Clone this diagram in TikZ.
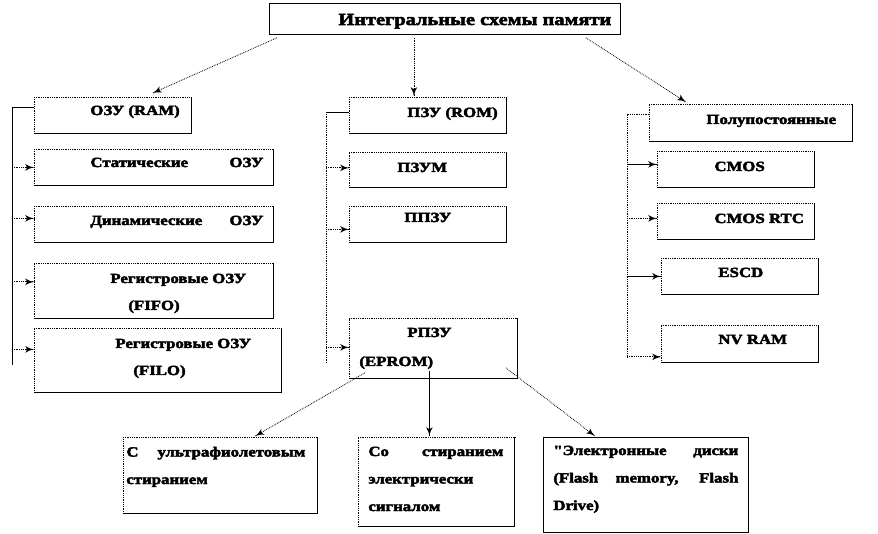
\documentclass[tikz,border=0pt]{standalone}
\usepackage{fontspec}
\usepackage{tikz}
\usetikzlibrary{arrows}
\usetikzlibrary{decorations.markings}
\usetikzlibrary{positioning}
\newfontfamily\boxfont{Liberation Serif}[FakeStretch=1.2, FakeBold=3]
\tikzset{tipend/.style = {decoration={markings,
                                      mark=at position 1 with {\arrow[scale=1.7]{latex'}}},
                          postaction={decorate}}}
\tikzset{box/.style = {rectangle, anchor = north west, inner sep = 0, draw}}
\tikzset{dbox/.style = {rectangle, anchor = north west, inner sep = 0,
                        append after command = {
                          (\tikzlastnode.south west) edge [densely dotted] (\tikzlastnode.north west)
                          (\tikzlastnode.north west) edge [densely dotted] (\tikzlastnode.north east)
                          (\tikzlastnode.north east) edge (\tikzlastnode.south east)
                          (\tikzlastnode.south east) edge (\tikzlastnode.south west)}}}
\tikzset{lbl/.style = {inner sep = 0, anchor = base west,
                       font = \boxfont\bfseries\fontsize{14}{16}\selectfont}}
\tikzset{para/.style = {lbl, align = left,
                        font = \boxfont\bfseries\fontsize{14}{27.5}\selectfont}}

\begin{document}
\begin{tikzpicture}[x=1pt, y=-1pt, line width=0.8pt]
      \useasboundingbox (0, 0) rectangle (878, 534);

      % boxes
      \node [box, minimum width = 351pt, minimum height = 31pt] (top) at (269, 3) {};
      \node [dbox, minimum width = 157pt, minimum height = 36pt] (ram) at (34, 97) {};
      \node [dbox, minimum width = 239pt, minimum height = 36pt] (stat) at (34, 149) {};
      \node [dbox, minimum width = 239pt, minimum height = 36pt] (dyn) at (34, 206) {};
      \node [dbox, minimum width = 239pt, minimum height = 55pt] (fifo) at (34, 263) {};
      \node [dbox, minimum width = 247pt, minimum height = 64pt] (filo) at (34, 328) {};
      \node [dbox, minimum width = 157pt, minimum height = 36pt] (rom) at (349, 97) {};
      \node [dbox, minimum width = 157pt, minimum height = 35pt] (pzum) at (349, 152) {};
      \node [dbox, minimum width = 157pt, minimum height = 36pt] (ppzu) at (349, 206) {};
      \node [dbox, minimum width = 168pt, minimum height = 60pt] (eprom) at (349, 318) {};
      \node [dbox, minimum width = 203pt, minimum height = 37pt] (semi) at (649, 104) {};
      \node [dbox, minimum width = 157pt, minimum height = 36pt] (cmos) at (657, 151) {};
      \node [dbox, minimum width = 157pt, minimum height = 36pt] (rtc) at (657, 203) {};
      \node [dbox, minimum width = 157pt, minimum height = 36pt] (escd) at (661, 258) {};
      \node [dbox, minimum width = 157pt, minimum height = 37pt] (nvram) at (661, 325) {};
      \node [dbox, minimum width = 194pt, minimum height = 76pt] (uv) at (123, 437) {};
      \node [dbox, minimum width = 156pt, minimum height = 89pt] (elec) at (358, 437) {};
      \node [box, minimum width = 205pt, minimum height = 95pt] (flash) at (543, 437) {};

      % texts
      \node [lbl, font = \boxfont\bfseries\fontsize{17}{20}\selectfont] (ttl) at (338, 25) {Интегральные схемы памяти};
      \node [lbl] (t-ram) at (90, 115) {ОЗУ (RAM)};
      \node [lbl] (t-stat) at (90, 167) {\makebox[173pt][s]{Статические ОЗУ}};
      \node [lbl] (t-dyn) at (90, 225) {\makebox[173pt][s]{Динамические ОЗУ}};
      \node [lbl] (t-fifo) at (110, 283) {Регистровые ОЗУ};
      \node [lbl] (t-fifo2) at (128, 310) {(FIFO)};
      \node [lbl] (t-filo) at (115, 348) {Регистровые ОЗУ};
      \node [lbl] (t-filo2) at (133, 375) {(FILO)};
      \node [lbl] (t-rom) at (407, 117) {ПЗУ (ROM)};
      \node [lbl] (t-pzum) at (397, 172) {ПЗУМ};
      \node [lbl] (t-ppzu) at (404, 222) {ППЗУ};
      \node [lbl] (t-eprom) at (407, 337) {РПЗУ};
      \node [lbl] (t-eprom2) at (359, 366) {(EPROM)};
      \node [lbl] (t-semi) at (706, 124) {Полупостоянные};
      \node [lbl] (t-cmos) at (714, 171) {CMOS};
      \node [lbl] (t-rtc) at (714, 223) {CMOS RTC};
      \node [lbl] (t-escd) at (718, 277) {ESCD};
      \node [lbl] (t-nvram) at (718, 344) {NV RAM};
      \node [para] (t-uv) at (126, 484) {\makebox[179pt][s]{С ультрафиолетовым}\\стиранием};
      \node [para] (t-elec) at (368, 511) {\makebox[135pt][s]{Со стиранием}\\электрически\\сигналом};
      \node [para] (t-flash) at (553, 510) {\makebox[185pt][s]{"Электронные диски}\\\makebox[185pt][s]{(Flash memory, Flash}\\Drive)};

      % from the title
      \draw [densely dotted, tipend] ([xshift = 8, yshift = -3]top.south west) -- ([xshift = 40, yshift = 4]ram.north);
      \draw [densely dotted, tipend] ([xshift = -31, yshift = -3]top.south) -- ([xshift = -14, yshift = 1]rom.north);
      \draw [densely dotted, tipend] ([xshift = -35, yshift = -3]top.south east) -- ([xshift = -65, yshift = 2]semi.north);

      % left column
      \coordinate (ltop) at (12, 107);
      \coordinate (lbot) at (12, 365);
      \draw (ltop) -- (lbot);
      \draw (ltop) -- (ram.west |- ltop);
      \draw [densely dotted, tipend] (stat.west -| ltop) -- (stat.west);
      \draw [densely dotted, tipend] ([yshift = 6]dyn.west -| ltop) -- ([yshift = 6]dyn.west);
      \draw [densely dotted, tipend] ([yshift = 9]fifo.west -| ltop) -- ([yshift = 9]fifo.west);
      \draw [densely dotted, tipend] ([yshift = 11]filo.west -| ltop) -- ([yshift = 11]filo.west);

      % middle column
      \coordinate (mtop) at (326, 112);
      \coordinate (mbot) at (326, 363);
      \draw [densely dotted] (mtop) -- (mbot);
      \draw (mtop) -- (rom.west |- mtop);
      \draw [densely dotted, tipend] ([yshift = 2]pzum.west -| mtop) -- ([yshift = 2]pzum.west);
      \draw [densely dotted, tipend] ([yshift = -5]ppzu.west -| mtop) -- ([yshift = -5]ppzu.west);
      \draw [densely dotted, tipend] ([yshift = 1]eprom.west -| mtop) -- ([yshift = 1]eprom.west);

      % right column
      \coordinate (rtop) at (627, 114);
      \draw [densely dotted] (semi.west |- rtop) -- (rtop) -- ([yshift = -13]nvram.west -| rtop);
      \draw [tipend] ([yshift = 5]cmos.west -| rtop) -- ([yshift = 5]cmos.west);
      \draw [densely dotted, tipend] ([yshift = 3]rtc.west -| rtop) -- ([yshift = 3]rtc.west);
      \draw [tipend] (escd.west -| rtop) -- (escd.west);
      \draw [densely dotted, tipend] ([yshift = -13]nvram.west -| rtop) -- ([yshift = -13]nvram.west);

      % from the EPROM box
      \draw [densely dotted, tipend] ([xshift = 16, yshift = 6]eprom.south west) -- ([xshift = 35, yshift = 1]uv.north);
      \draw [tipend] ([xshift = -4, yshift = 8]eprom.south) -- ([xshift = -7, yshift = 1]elec.north);
      \draw [densely dotted, tipend] ([xshift = -12, yshift = 11]eprom.south east) -- ([xshift = -51, yshift = 1]flash.north);
    \end{tikzpicture}
\end{document}
